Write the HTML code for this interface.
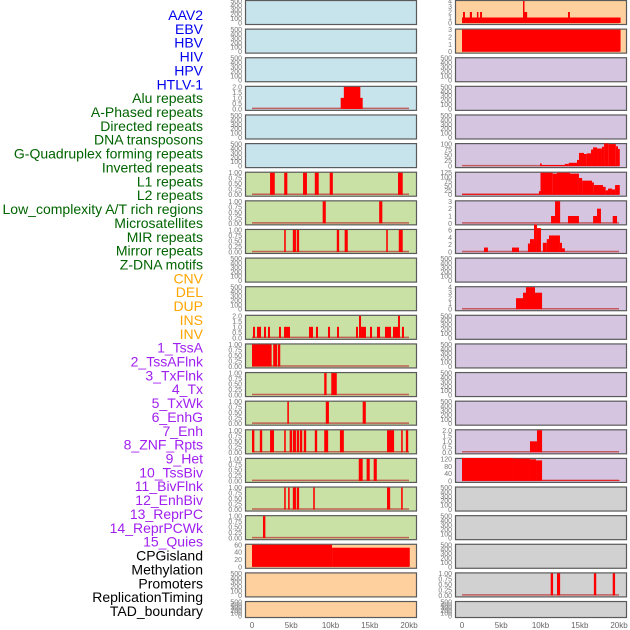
<!DOCTYPE html>
<html><head><meta charset="utf-8">
<style>
html,body{margin:0;padding:0;background:#fff;width:630px;height:630px;overflow:hidden}
svg{display:block}
</style></head>
<body>
<svg id="chart" width="630" height="630" xmlns="http://www.w3.org/2000/svg" font-family="Liberation Sans, sans-serif"></svg>
<script>
const labels=["AAV2","EBV","HBV","HIV","HPV","HTLV-1","Alu repeats","A-Phased repeats","Directed repeats","DNA transposons","G-Quadruplex forming repeats","Inverted repeats","L1 repeats","L2 repeats","Low_complexity A/T rich regions","Microsatellites","MIR repeats","Mirror repeats","Z-DNA motifs","CNV","DEL","DUP","INS","INV","1_TssA","2_TssAFlnk","3_TxFlnk","4_Tx","5_TxWk","6_EnhG","7_Enh","8_ZNF_Rpts","9_Het","10_TssBiv","11_BivFlnk","12_EnhBiv","13_ReprPC","14_ReprPCWk","15_Quies","CPGisland","Methylation","Promoters","ReplicationTiming","TAD_boundary"];
const labelGroups=["v","v","v","v","v","v","r","r","r","r","r","r","r","r","r","r","r","r","r","s","s","s","s","s","c","c","c","c","c","c","c","c","c","c","c","c","c","c","c","o","o","o","o","o"];
const xTicks=[0,5,10,15,20];
const xTickLabels=["0","5kb","10kb","15kb","20kb"];
const leftBg=["b","b","b","b","b","b","g","g","g","g","g","g","g","g","g","g","g","g","g","p","p","p"];
const rightBg=["p","p","l","l","l","l","l","l","l","l","l","l","l","l","l","l","l","y","y","y","y","y"];
const leftTicks=[null,null,null,[0,0.5,1,1.5,2],null,null,[0,0.25,0.5,0.75,1],[0,0.25,0.5,0.75,1],[0,0.25,0.5,0.75,1],null,null,[0,0.5,1,1.5,2],[0,0.25,0.5,0.75,1],[0,0.25,0.5,0.75,1],[0,0.25,0.5,0.75,1],[0,0.25,0.5,0.75,1],[0,0.25,0.5,0.75,1],[0,0.25,0.5,0.75,1],[0,0.25,0.5,0.75,1],[0,20,40,60],null,null];
const rightTicks=[[0,1,2,3,4],[0,1,2,3],null,null,null,[0,25,50,75,100],[0,25,50,75,100,125],[0,1,2,3],[0,2,4,6],null,[0,1,2,3,4],null,null,null,null,[0,0.5,1,1.5,2],[0,40,80,120],null,null,null,[0,0.25,0.5,0.75,1],null];
// segments: [startKb, endKb, value]
const L=[];const R=[];
L[3]=[[11.3,14.1,1],[11.7,13.8,2]];
L[6]=[[2.3,2.9,1],[4.1,4.5,1],[6.5,7.0,1],[8.0,8.5,1],[9.9,10.3,1],[18.6,19.2,1]];
L[7]=[[9.0,9.4,1],[16.2,16.6,1]];
L[8]=[[4.1,4.3,1],[5.2,5.6,1],[5.7,6.0,1],[10.8,11.1,1],[11.8,12.2,1],[17.1,17.3,1],[18.7,19.2,1]];
L[11]=[[0.13,0.38,1],[0.64,1.15,1],[1.53,1.78,1],[2.04,2.29,1],[3.44,3.69,1],[4.08,4.84,1],[7.26,7.77,1],[8.15,8.41,1],[9.68,9.94,1],[10.83,11.08,1],[13.25,13.5,1],[13.63,13.89,2],[13.89,14.52,1],[15.03,15.29,1],[15.92,16.31,1],[16.94,17.71,1],[17.96,18.6,1],[18.6,18.85,2],[19.1,19.36,1]];
L[12]=[[0,2.5,1],[2.7,3.2,1],[3.3,3.6,1]];
L[13]=[[9.2,9.5,1],[10.1,10.8,1]];
L[14]=[[4.5,4.7,1],[9.4,9.8,1],[14.1,14.5,1]];
L[15]=[[0,0.3,1],[1.0,1.3,1],[2.3,2.8,1],[4.1,4.3,1],[4.8,5.1,1],[5.2,5.6,1],[5.7,6.0,1],[6.1,6.4,1],[6.6,6.9,1],[8.0,8.3,1],[9.2,9.7,1],[11.2,11.7,1],[17.2,18.1,1],[19.0,19.2,1],[19.6,19.9,1]];
L[16]=[[13.6,14.1,1],[14.6,15.0,1],[15.5,15.9,1]];
L[17]=[[4.1,4.3,1],[4.6,4.8,1],[5.2,5.6,1],[5.7,6.0,1],[7.8,8.0,1],[17.2,17.6,1],[19.0,19.2,1]];
L[18]=[[1.4,1.7,1]];
L[19]=[[0,10.2,60],[10.2,20.1,52]];
R[0]=[[0,20.2,1],[0.13,0.38,2],[1.0,1.27,2],[1.9,2.04,2],[2.3,2.55,2],[7.77,7.9,4],[7.9,8.3,2],[13.5,13.75,2]];
R[1]=[[0,20.2,3]];
R[5]=[[9.94,10.15,12],[10.15,13.1,5],[13.1,13.6,10],[13.6,14.65,15],[14.65,14.9,28],[14.9,15.54,60],[15.54,15.9,55],[15.9,16.43,58],[16.43,16.69,75],[16.69,17.2,85],[17.2,17.83,80],[17.83,18.1,88],[18.1,18.7,103],[18.7,19.6,100],[19.6,19.87,90],[19.87,20.1,78]];
R[6]=[[0,9.8,5],[9.8,10.0,20],[10.0,11.55,125],[11.55,12.1,120],[12.1,13.76,125],[13.76,14.9,120],[14.9,15.3,95],[15.3,16.56,80],[16.56,16.8,70],[16.8,17.96,55],[17.96,18.3,45],[18.3,18.6,25],[18.6,19.1,35],[19.1,19.5,30],[19.5,20.1,55]];
R[7]=[[11.34,11.85,1],[11.85,12.5,3],[13.5,14.9,1],[16.7,17.2,1],[17.2,17.7,2],[19.2,19.75,1]];
R[8]=[[2.8,3.3,1.2],[6.37,7.26,1.2],[8.4,8.66,2.3],[8.66,9.17,3.5],[9.17,9.55,7.5],[9.55,10.06,6.5],[10.3,10.8,2.5],[10.8,11.08,3.5],[11.08,12.48,4.5],[12.48,12.74,2.5],[12.74,13.1,1]];
R[10]=[[6.88,7.77,2],[7.77,8.15,3],[8.15,9.3,4],[9.3,10.2,3]];
R[15]=[[8.66,9.55,1],[9.55,10.2,2]];
R[16]=[[0,6.5,125],[6.5,8.66,122],[8.66,9.43,118],[9.43,10.2,112],[10.2,20.1,3]];
R[20]=[[11.3,11.6,1],[12.1,12.5,1],[16.8,17.1,1],[19.2,19.5,1]];

const NS="http://www.w3.org/2000/svg";
const svg=document.getElementById('chart');
const bgCol={b:"#c7e3eb",p:"#fed09d",l:"#d5c5e1",g:"#c9e1a5",y:"#d1d1d1"};
const grpCol={v:"#0000ee",r:"#006400",s:"#ffa500",c:"#a020f0",o:"#000000"};
const PITCH=28.62, PX=7.85;
function mk(t,a,p){const e=document.createElementNS(NS,t);for(const k in a)e.setAttribute(k,a[k]);(p||svg).appendChild(e);return e;}
function rowTop(i){return i*PITCH;}
function rowH(i){return i===21?16:24;}
function xScale(side,kb){return (side===0?252:462)+kb*PX;}
function yScale(i,v,max){const t=rowTop(i),h=rowH(i);return t+h-1-(v/max)*(h-2);}

// labels
labels.forEach((s,i)=>{
  const t=mk('text',{x:203,y:15+i*13.86+5,'text-anchor':'end','font-size':'14',fill:grpCol[labelGroups[i]]});
  t.textContent=s;
  
  
});

function drawPanel(side,i){
  const x0=side===0?245:455, w=171, t=rowTop(i), h=rowH(i);
  const bg=(side===0?leftBg:rightBg)[i];
  const g=mk('g',{});
  
  
  const r=mk('rect',{x:x0+0.5,y:t+0.5,width:w,height:h,fill:bgCol[bg],stroke:"#5a5a5a","stroke-width":1.2},g);
  
  
  let ticks=(side===0?leftTicks:rightTicks)[i]||[0,100,200,300,400,500];
  const max=ticks[ticks.length-1];
  ticks.forEach(v=>{
    const tt=mk('text',{x:x0-3,y:yScale(i,v,max)+2.5,'text-anchor':'end','font-size':'7',fill:"#777"},g);
    tt.textContent=(max<=1&&ticks.length===5)?v.toFixed(2):(max===2?v.toFixed(1):String(v));
    
    
  });
  const segs=(side===0?L:R)[i];
  if(segs){
    const base=mk('line',{x1:xScale(side,0),x2:xScale(side,20),y1:yScale(i,0,max)-0.5,y2:yScale(i,0,max)-0.5,stroke:"#c04040","stroke-width":1.5,opacity:0.8},g);
    
    
    segs.forEach(s=>{
      const xa=xScale(side,s[0]),xb=xScale(side,s[1]);
      const ya=yScale(i,s[2],max),yb=yScale(i,0,max);
      const b=mk('rect',{x:xa,y:ya,width:Math.max(1.5,xb-xa),height:yb-ya,fill:"#ff0000"},g);
      
      
    });
  }
}
for(let i=0;i<22;i++){drawPanel(0,i);drawPanel(1,i);}
[0,1].forEach(side=>{
  xTicks.forEach((v,k)=>{
    const tt=mk('text',{x:xScale(side,v),y:628,'text-anchor':'middle','font-size':'8',fill:"#666"});
    tt.textContent=xTickLabels[k];
    
    
  });
});
</script>
</body></html>
